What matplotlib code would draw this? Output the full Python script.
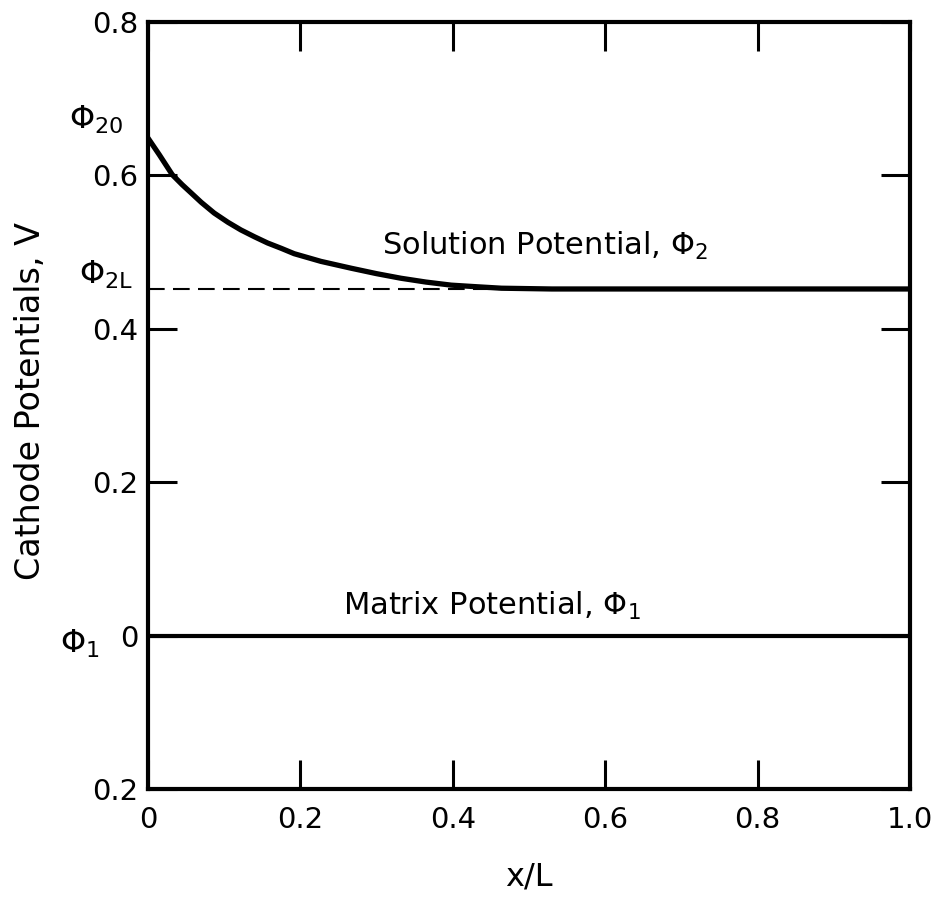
import matplotlib
matplotlib.use("Agg")
import matplotlib.pyplot as plt

plt.rcParams['font.family'] = ['DejaVu Sans']
plt.rcParams['mathtext.fontset'] = 'dejavusans'

# Solution potential Phi_2
x_sol = [0.0, 0.015, 0.032, 0.045, 0.057, 0.07, 0.087, 0.105, 0.122, 0.14,
         0.157, 0.175, 0.192, 0.227, 0.267, 0.3, 0.332, 0.365, 0.398, 0.43,
         0.464, 0.53, 0.6, 0.8, 1.0]
v_sol = [0.649, 0.627, 0.601, 0.588, 0.577, 0.565, 0.551, 0.539, 0.529, 0.520,
         0.512, 0.505, 0.498, 0.488, 0.479, 0.472, 0.466, 0.461, 0.457, 0.455,
         0.453, 0.452, 0.452, 0.452, 0.452]

# Matrix potential Phi_1
x_mat = [0.0, 1.0]
v_mat = [0.0, 0.0]

# Phi_2L reference (dashed)
x_ref = [0.0, 0.48]
v_ref = [0.452, 0.452]

x_ticks = [0.0, 0.2, 0.4, 0.6, 0.8, 1.0]
x_ticklabels = ["0", "0.2", "0.4", "0.6", "0.8", "1.0"]
y_ticks = [0.8, 0.6, 0.4, 0.2, 0.0, -0.2]
y_ticklabels = ["0.8", "0.6", "0.4", "0.2", "0", "0.2"]

fig = plt.figure(figsize=(9.42, 8.99), dpi=100)
ax = fig.add_axes([0.157, 0.1224, 0.809, 0.853])

ax.plot(x_sol, v_sol, color='black', lw=3.8, solid_capstyle='butt',
        solid_joinstyle='round')
ax.plot(x_mat, v_mat, color='black', lw=3.0, solid_capstyle='butt')
ax.plot(x_ref, v_ref, color='black', lw=1.5, dashes=(8, 4))

ax.set_xlim(0, 1.0)
ax.set_ylim(-0.2, 0.8)

for s in ax.spines.values():
    s.set_linewidth(3.0)

ax.set_xticks(x_ticks)
ax.set_xticklabels(x_ticklabels)
ax.set_yticks(y_ticks)
ax.set_yticklabels(y_ticklabels)
ax.tick_params(which='major', direction='in', length=21, width=2.2,
               top=True, right=True, bottom=True, left=True, labelsize=21)
ax.tick_params(axis='x', pad=12)
ax.tick_params(axis='y', pad=7)

ax.set_xlabel("x/L", fontsize=23, labelpad=20)
ax.set_ylabel("Cathode Potentials, V", fontsize=24)
ax.yaxis.set_label_coords(-0.133, 0.506)

ax.text(0.307, 0.497, r"Solution Potential, $\Phi_2$", fontsize=22,
        ha='left', va='baseline')
ax.text(0.256, 0.027, r"Matrix Potential, $\Phi_1$", fontsize=22,
        ha='left', va='baseline')

ax.text(-0.103, 0.661, r"$\Phi_{20}$", fontsize=23, ha='left',
        va='baseline', clip_on=False)
ax.text(-0.091, 0.459, r"$\Phi_{2\mathrm{L}}$", fontsize=23, ha='left',
        va='baseline', clip_on=False)
ax.text(-0.115, -0.022, r"$\Phi_1$", fontsize=23, ha='left',
        va='baseline', clip_on=False)

fig.savefig("out.png", dpi=100)
